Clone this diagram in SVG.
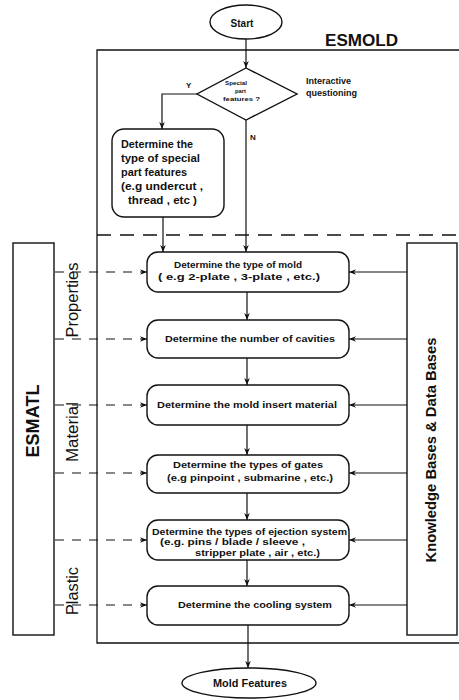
<svg xmlns="http://www.w3.org/2000/svg" width="459" height="700" viewBox="0 0 459 700">
<defs>
<marker id="ah" viewBox="0 0 10 10" refX="10" refY="5" markerWidth="7" markerHeight="7" markerUnits="userSpaceOnUse" orient="auto">
<path d="M0,1 L10,5 L0,9 L3,5 Z" fill="#111"/>
</marker>
<style>
.s{fill:none;stroke:#111;stroke-width:1.3}
.b{fill:#fff;stroke:#111;stroke-width:1.4}
.c{fill:none;stroke:#111;stroke-width:1.2;marker-end:url(#ah)}
.d{fill:none;stroke:#111;stroke-width:1.2;stroke-dasharray:9 8;marker-end:url(#ah)}
.t{font-family:"Liberation Sans",Arial,sans-serif;font-weight:bold;fill:#111}
.r{font-family:"Liberation Sans",Arial,sans-serif;fill:#111}
</style>
</defs>
<rect width="459" height="700" fill="#fff"/>

<g id="esmold-frame">
<path class="s" d="M459,50 H97 V643 H459"/>
<path d="M97,235 H459" fill="none" stroke="#111" stroke-width="1.3" stroke-dasharray="14 9"/>
<text class="t" x="325" y="46" font-size="17" textLength="73" lengthAdjust="spacingAndGlyphs">ESMOLD</text>
</g>

<g id="connectors">
<path class="c" d="M246,39 V68"/>
<path class="c" d="M197,94 H162 V129"/>
<path class="c" d="M246,120 V252"/>
<path class="c" d="M163,217 V252"/>
<path class="c" d="M247,292 V320"/>
<path class="c" d="M247,358 V385"/>
<path class="c" d="M247,425 V455"/>
<path class="c" d="M247,493 V520"/>
<path class="c" d="M247,560 V586"/>
<path class="c" d="M248,625 V668"/>
<path class="d" d="M55,272 H147"/>
<path class="d" d="M55,339 H147"/>
<path class="d" d="M55,405 H147"/>
<path class="d" d="M55,473 H147"/>
<path class="d" d="M55,540 H147"/>
<path class="d" d="M55,605 H147"/>
<path class="c" d="M407,272 H349"/>
<path class="c" d="M407,339 H349"/>
<path class="c" d="M407,405 H349"/>
<path class="c" d="M407,473 H349"/>
<path class="c" d="M407,540 H349"/>
<path class="c" d="M407,605 H349"/>
<text class="t" x="186" y="88" font-size="8">Y</text>
<text class="t" x="250" y="140" font-size="8">N</text>
</g>

<g id="start">
<ellipse class="b" cx="246" cy="22" rx="36" ry="17"/>
<text class="t" x="242" y="27" font-size="10" text-anchor="middle">Start</text>
</g>

<g id="decision">
<polygon class="b" points="246,68 297,94 246,120 197,94"/>
<text class="t" x="225" y="85" font-size="6" textLength="22" lengthAdjust="spacingAndGlyphs">Special</text>
<text class="t" x="235" y="93" font-size="6" textLength="11" lengthAdjust="spacingAndGlyphs">part</text>
<text class="t" x="223" y="101" font-size="6" textLength="37" lengthAdjust="spacingAndGlyphs">features ?</text>
<text class="t" x="306" y="84" font-size="9">Interactive</text>
<text class="t" x="306" y="96" font-size="9">questioning</text>
</g>

<g id="special-features">
<rect class="b" x="112" y="129" width="112" height="88" rx="12"/>
<text class="t" x="121" y="148" font-size="10" textLength="72" lengthAdjust="spacingAndGlyphs">Determine the</text>
<text class="t" x="121" y="162" font-size="10" textLength="79" lengthAdjust="spacingAndGlyphs">type of special</text>
<text class="t" x="121" y="176" font-size="10" textLength="66" lengthAdjust="spacingAndGlyphs">part features</text>
<text class="t" x="121" y="190" font-size="10" textLength="82" lengthAdjust="spacingAndGlyphs">(e.g  undercut ,</text>
<text class="t" x="128" y="204" font-size="10" textLength="69" lengthAdjust="spacingAndGlyphs">thread , etc )</text>
</g>

<g id="mold-type">
<rect class="b" x="147" y="252" width="202" height="40" rx="11"/>
<text class="t" x="174" y="268" font-size="9" textLength="128" lengthAdjust="spacingAndGlyphs">Determine the type of mold</text>
<text class="t" x="158" y="280" font-size="9" textLength="162" lengthAdjust="spacingAndGlyphs">( e.g  2-plate , 3-plate , etc.)</text>
</g>

<g id="cavities">
<rect class="b" x="147" y="320" width="202" height="38" rx="11"/>
<text class="t" x="165" y="342" font-size="9" textLength="170" lengthAdjust="spacingAndGlyphs">Determine the number of cavities</text>
</g>

<g id="insert-material">
<rect class="b" x="147" y="385" width="202" height="40" rx="11"/>
<text class="t" x="157" y="408" font-size="9" textLength="180" lengthAdjust="spacingAndGlyphs">Determine the mold insert material</text>
</g>

<g id="gates">
<rect class="b" x="147" y="455" width="202" height="38" rx="11"/>
<text class="t" x="173" y="468" font-size="9" textLength="150" lengthAdjust="spacingAndGlyphs">Determine the types of gates</text>
<text class="t" x="167" y="481" font-size="9" textLength="166" lengthAdjust="spacingAndGlyphs">(e.g  pinpoint , submarine , etc.)</text>
</g>

<g id="ejection">
<rect class="b" x="147" y="520" width="202" height="40" rx="11"/>
<text class="t" x="152" y="535" font-size="9" textLength="195" lengthAdjust="spacingAndGlyphs">Determine the types of ejection system</text>
<text class="t" x="160" y="545" font-size="9" textLength="145" lengthAdjust="spacingAndGlyphs">(e.g. pins /  blade / sleeve ,</text>
<text class="t" x="195" y="556" font-size="9" textLength="125" lengthAdjust="spacingAndGlyphs">stripper plate , air , etc.)</text>
</g>

<g id="cooling">
<rect class="b" x="147" y="586" width="202" height="39" rx="11"/>
<text class="t" x="178" y="608" font-size="9" textLength="154" lengthAdjust="spacingAndGlyphs">Determine the cooling system</text>
</g>

<g id="mold-features">
<ellipse class="b" cx="249" cy="683" rx="67" ry="15"/>
<text class="t" x="213" y="687" font-size="10.5" textLength="74" lengthAdjust="spacingAndGlyphs">Mold Features</text>
</g>

<g id="esmatl">
<rect class="b" x="13" y="243" width="41" height="392"/>
<text class="t" transform="translate(39,421) rotate(-90)" font-size="18" text-anchor="middle" textLength="73" lengthAdjust="spacingAndGlyphs">ESMATL</text>
</g>

<g id="labels">
<text class="r" transform="translate(78,300) rotate(-90)" font-size="16" text-anchor="middle" textLength="75" lengthAdjust="spacingAndGlyphs">Properties</text>
<text class="r" transform="translate(78,432) rotate(-90)" font-size="16" text-anchor="middle" textLength="60" lengthAdjust="spacingAndGlyphs">Material</text>
<text class="r" transform="translate(78,591) rotate(-90)" font-size="16" text-anchor="middle" textLength="48" lengthAdjust="spacingAndGlyphs">Plastic</text>
</g>

<g id="knowledge-bases">
<rect class="b" x="407" y="243" width="50" height="392"/>
<text class="t" transform="translate(436,450) rotate(-90)" font-size="15" text-anchor="middle" textLength="225" lengthAdjust="spacingAndGlyphs">Knowledge Bases &amp; Data Bases</text>
</g>
</svg>
